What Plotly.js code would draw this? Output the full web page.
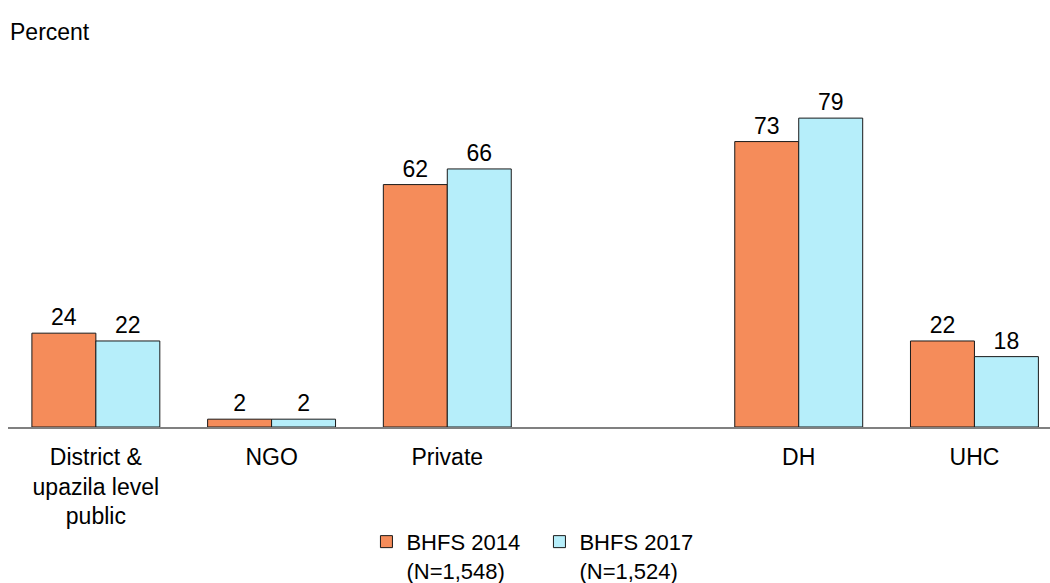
<!DOCTYPE html>
<html>
<head>
<meta charset="utf-8">
<script src="https://cdn.plot.ly/plotly-3.0.1.min.js"></script>
<style>html,body{margin:0;padding:0;background:#fff;}#chart{width:1050px;height:583px;}</style>
</head>
<body>
<div id="chart"></div>
<script>
var categories = ["District &<br>upazila level<br>public", "NGO", "Private", " ", "DH", "UHC"];
var values2014 = [24, 2, 62, null, 73, 22];
var values2017 = [22, 2, 66, null, 79, 18];
var seriesNames = ["BHFS 2014<br>(N=1,548)", "BHFS 2017<br>(N=1,524)"];

function labels(vals){ return vals.map(function(v){ return v === null ? "" : String(v); }); }

var font = "Liberation Sans, Arial, sans-serif";
var FS = 23;
var traces = [
  {type:"bar", name:seriesNames[0], x:categories, y:values2014, text:labels(values2014),
   textposition:"outside", cliponaxis:false, textfont:{size:FS, color:"#000", family:font},
   marker:{color:"#F58C5A", line:{color:"#1a1a1a", width:1}}, hoverinfo:"skip"},
  {type:"bar", name:seriesNames[1], x:categories, y:values2017, text:labels(values2017),
   textposition:"outside", cliponaxis:false, textfont:{size:FS, color:"#000", family:font},
   marker:{color:"#B6EEFA", line:{color:"#1a1a1a", width:1}}, hoverinfo:"skip"}
];

var layout = {
  width:1050, height:583,
  margin:{l:8, r:0, t:36, b:156, autoexpand:false},
  paper_bgcolor:"#fff", plot_bgcolor:"#fff",
  font:{family:font, size:FS, color:"#000"},
  barmode:"group", bargap:0.272, bargroupgap:0,
  showlegend:true,
  legend:{orientation:"h", x:0.344, xanchor:"left", y:-0.24, yanchor:"top", valign:"top",
          font:{size:22, family:font}, traceorder:"normal", itemwidth:30,
          entrywidth:128, entrywidthmode:"pixels",
          tracegroupgap:0, bgcolor:"rgba(0,0,0,0)"},
  xaxis:{type:"category", range:[-0.5, 5.43], showline:true, linecolor:"#808080", linewidth:2,
         ticks:"outside", ticklen:8, tickcolor:"rgba(0,0,0,0)", showgrid:false, zeroline:false,
         tickfont:{size:FS, family:font}, fixedrange:true},
  yaxis:{range:[0,100], visible:false, showgrid:false, zeroline:false, fixedrange:true},
  annotations:[{text:"Percent", xref:"paper", yref:"paper", x:0, xanchor:"left",
                y:1, yshift:4, yanchor:"middle", showarrow:false, font:{size:FS, family:font}}]
};

Plotly.newPlot("chart", traces, layout, {displayModeBar:false, staticPlot:true});
</script>
</body>
</html>
